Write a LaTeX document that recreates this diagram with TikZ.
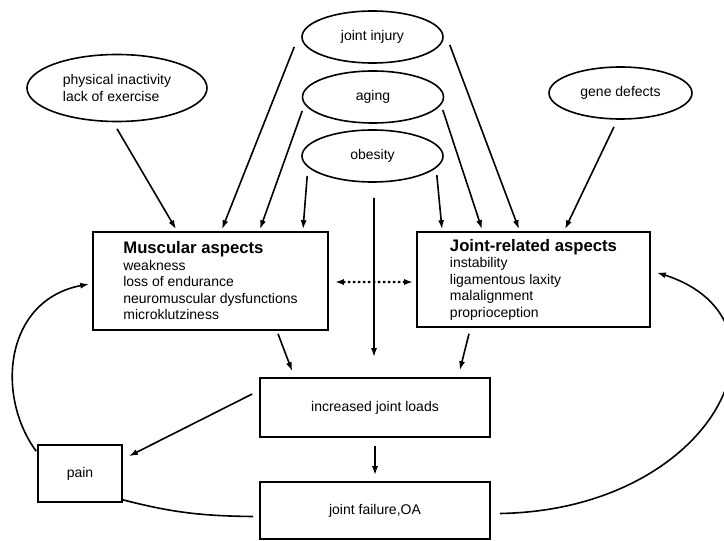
\documentclass[tikz,border=0pt]{standalone}
\usepackage{fontspec}
\setmainfont{Liberation Sans}
\usetikzlibrary{shapes.geometric,arrows.meta}
\tikzset{
  cause/.style = { draw, ellipse, line width=1.6bp, inner sep=0pt, align=left,
    font=\fontsize{14bp}{17bp}\selectfont },
  aspect/.style = { draw, rectangle, line width=1.6bp, inner sep=0pt, align=left,
    font=\fontsize{14bp}{16.5bp}\selectfont },
  link/.style = { line width=1.6bp, -{Latex[length=9bp,width=6bp]} },
}
\newcommand{\aspecthead}[1]{{\fontsize{16.7bp}{17bp}\selectfont\bfseries #1}}
\begin{document}
\begin{tikzpicture}[x=1bp, y=-1bp]
        \useasboundingbox (0,0) rectangle (724,541);

        \node [ cause, minimum width=180bp, minimum height=67bp ] (inactivity) at (117,88) {physical inactivity\\lack of exercise};
        \node [ cause, minimum width=141bp, minimum height=52bp ] (injury) at (372.5,37) {joint injury};
        \node [ cause, minimum width=141bp, minimum height=52bp ] (aging) at (373,97) {aging};
        \node [ cause, minimum width=141bp, minimum height=52bp ] (obesity) at (372.5,156) {obesity};
        \node [ cause, minimum width=143bp, minimum height=52bp ] (gene) at (620.5,93) {gene defects};

        \node [ aspect, minimum width=235bp, minimum height=98bp ] (muscular) at (210.5,281)
          {\aspecthead{Muscular aspects}\\weakness\\loss of endurance\\neuromuscular dysfunctions\\microklutziness};
        \node [ aspect, minimum width=233bp, minimum height=95bp ] (jointrel) at (533.5,279.5)
          {\aspecthead{Joint-related aspects}\\instability\\ligamentous laxity\\malalignment\\proprioception};
        \node [ aspect, align=center, minimum width=230bp, minimum height=59bp ] (loads) at (375,407.5) {increased joint loads};
        \node [ aspect, align=center, minimum width=84bp, minimum height=57bp ] (pain) at (80,473.5) {pain};
        \node [ aspect, align=center, minimum width=230bp, minimum height=57bp ] (failure) at (375,510.5) {joint failure,OA};

        \draw [ link ] ([shift={(0,6.5)}]inactivity.south) -- ([shift={(-34.5,-2)}]muscular.north);
        \draw [ link ] ([shift={(-7,10)}]injury.west) -- ([shift={(11.5,-2)}]muscular.north);
        \draw [ link ] ([shift={(0.5,14)}]aging.west) -- ([shift={(49.5,-2)}]muscular.north);
        \draw [ link ] ([shift={(6,20)}]obesity.west) -- ([shift={(92.5,-2)}]muscular.north);

        \draw [ link ] ([shift={(6,8)}]injury.east) -- ([shift={(-14.5,-2)}]jointrel.north);
        \draw [ link ] ([shift={(-1.5,13)}]aging.east) -- ([shift={(-51.5,-2)}]jointrel.north);
        \draw [ link ] ([shift={(-7,19)}]obesity.east) -- ([shift={(-91.5,-2)}]jointrel.north);
        \draw [ link ] ([shift={(-6.5,7)}]gene.south) -- ([shift={(31.5,-2)}]jointrel.north);

        \draw [ link ] ([shift={(1.5,15)}]obesity.south) -- ([shift={(-1,-20)}]loads.north);
        \draw [ link, dash pattern=on 2.5bp off 2.5bp, line width=2.2bp, {Latex[length=9bp,width=6bp]}-{Latex[length=9bp,width=6bp]} ]
          ([shift={(6,1)}]muscular.east) -- ([shift={(-3,2.5)}]jointrel.west);

        \draw [ link ] ([shift={(67.5,3)}]muscular.south) -- ([shift={(33,-6)}]loads.north west);
        \draw [ link ] ([shift={(-64.5,6)}]jointrel.south) -- ([shift={(-31,-7)}]loads.north east);
        \draw [ link ] ([shift={(-7,-13.5)}]loads.west) -- ([shift={(6,12)}]pain.north east);
        \draw [ link ] ([shift={(0,8)}]loads.south) -- ([shift={(0,-6)}]failure.north);

        \draw [ link ] ([shift={(-1,7)}]pain.north west) .. controls (-5,395) and (5,300) .. ([shift={(-3,3)}]muscular.west);
        \draw [ line width=1.6bp ] ([shift={(0,-3)}]pain.south east) .. controls (170,512) and (200,516) .. ([shift={(-6,6)}]failure.west);
        \draw [ link ] ([shift={(9,3)}]failure.east) .. controls (715,510) and (805,320) .. ([shift={(6,-7)}]jointrel.east);
      \end{tikzpicture}
\end{document}
